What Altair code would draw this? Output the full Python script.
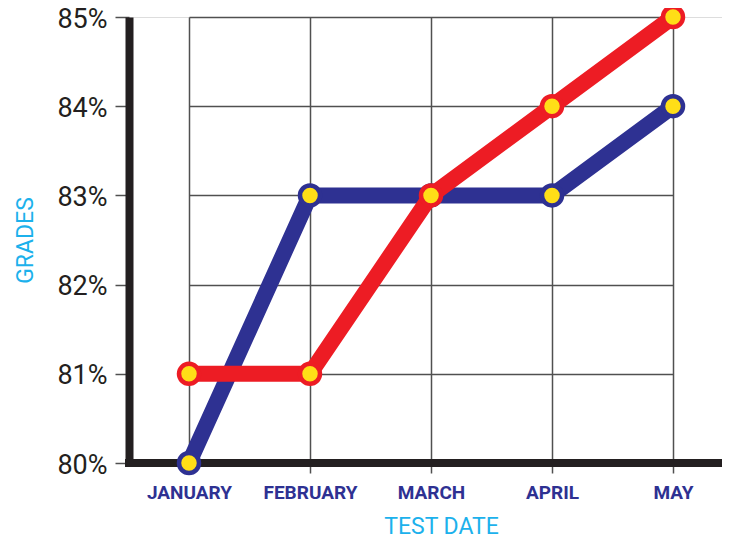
import altair as alt
import pandas as pd

months = ["JANUARY", "FEBRUARY", "MARCH", "APRIL", "MAY"]
blue_series = [80, 83, 83, 83, 84]
red_series = [81, 81, 83, 84, 85]
y_ticks = [80, 81, 82, 83, 84, 85]

BLUE = "#2e3192"
RED = "#ed1c24"
YELLOW = "#ffde17"
CYAN = "#1cb1ec"
BLACK = "#231f20"
GRID = "#505050"

W = 593
H = 446

df = pd.DataFrame({
    "month": months * 2,
    "grade": blue_series + red_series,
    "series": ["blue"] * 5 + ["red"] * 5,
})

x_enc = alt.X(
    "month:N",
    sort=months,
    scale=alt.Scale(range=[60, 544], padding=0),
    axis=alt.Axis(
        title="TEST DATE",
        titleColor=CYAN,
        titleFont="Roboto",
        titleFontSize=23,
        titleFontWeight="normal",
        titleX=312,
        titleY=70,
        titleAnchor="start",
        titleAlign="center",
        titleBaseline="alphabetic",
        labelColor=BLUE,
        labelFont="Roboto",
        labelFontSize=19,
        labelFontWeight="bold",
        labelAngle=0,
        labelPadding=10,
        tickSize=10,
        tickColor=GRID,
        tickWidth=1.5,
        grid=True,
        gridColor=GRID,
        gridWidth=1.5,
        gridOpacity=1,
        domain=False,
    ),
)

y_enc = alt.Y(
    "grade:Q",
    scale=alt.Scale(domain=[80, 85], nice=False, zero=False),
    axis=alt.Axis(
        values=y_ticks,
        labelExpr="datum.value + '%'",
        title="GRADES",
        titleColor=CYAN,
        titleFont="Roboto",
        titleFontSize=23,
        titleFontWeight="normal",
        titleAngle=-90,
        titleX=-97,
        titleY=223,
        titleAlign="center",
        titleBaseline="alphabetic",
        labelColor=BLACK,
        labelFont="Roboto",
        labelFontSize=27,
        labelOffset=2,
        labelPadding=8,
        tickSize=14,
        tickColor=GRID,
        tickWidth=1.5,
        grid=True,
        gridColor=GRID,
        gridWidth=1.5,
        gridOpacity=1,
        domainColor=BLACK,
        domainWidth=8,
    ),
)

base = alt.Chart(df).encode(x=x_enc, y=y_enc)

bottom_axis = alt.Chart(pd.DataFrame({"k": [0]})).mark_rule(
    color=BLACK, strokeWidth=8
).encode(x=alt.value(-4), x2=alt.value(W), y=alt.value(H))


def series_layers(name, color):
    sub = base.transform_filter(alt.datum.series == name)
    line = sub.mark_line(color=color, strokeWidth=16, strokeCap="round", strokeJoin="round")
    pts = sub.mark_point(filled=True, fill=YELLOW, fillOpacity=1, stroke=color,
                         strokeWidth=4.5, size=400, opacity=1, shape="circle")
    return [line, pts]


layers = [bottom_axis] + series_layers("blue", BLUE) + series_layers("red", RED)

chart = alt.layer(*layers).properties(
    width=W,
    height=H,
    autosize=alt.AutoSizeParams(type="none"),
    padding={"left": 121, "top": 9, "right": 0, "bottom": 75},
).configure_view(stroke=None).configure(background="white")

chart.save("out.html", embed_options={"renderer": "svg", "actions": False})
